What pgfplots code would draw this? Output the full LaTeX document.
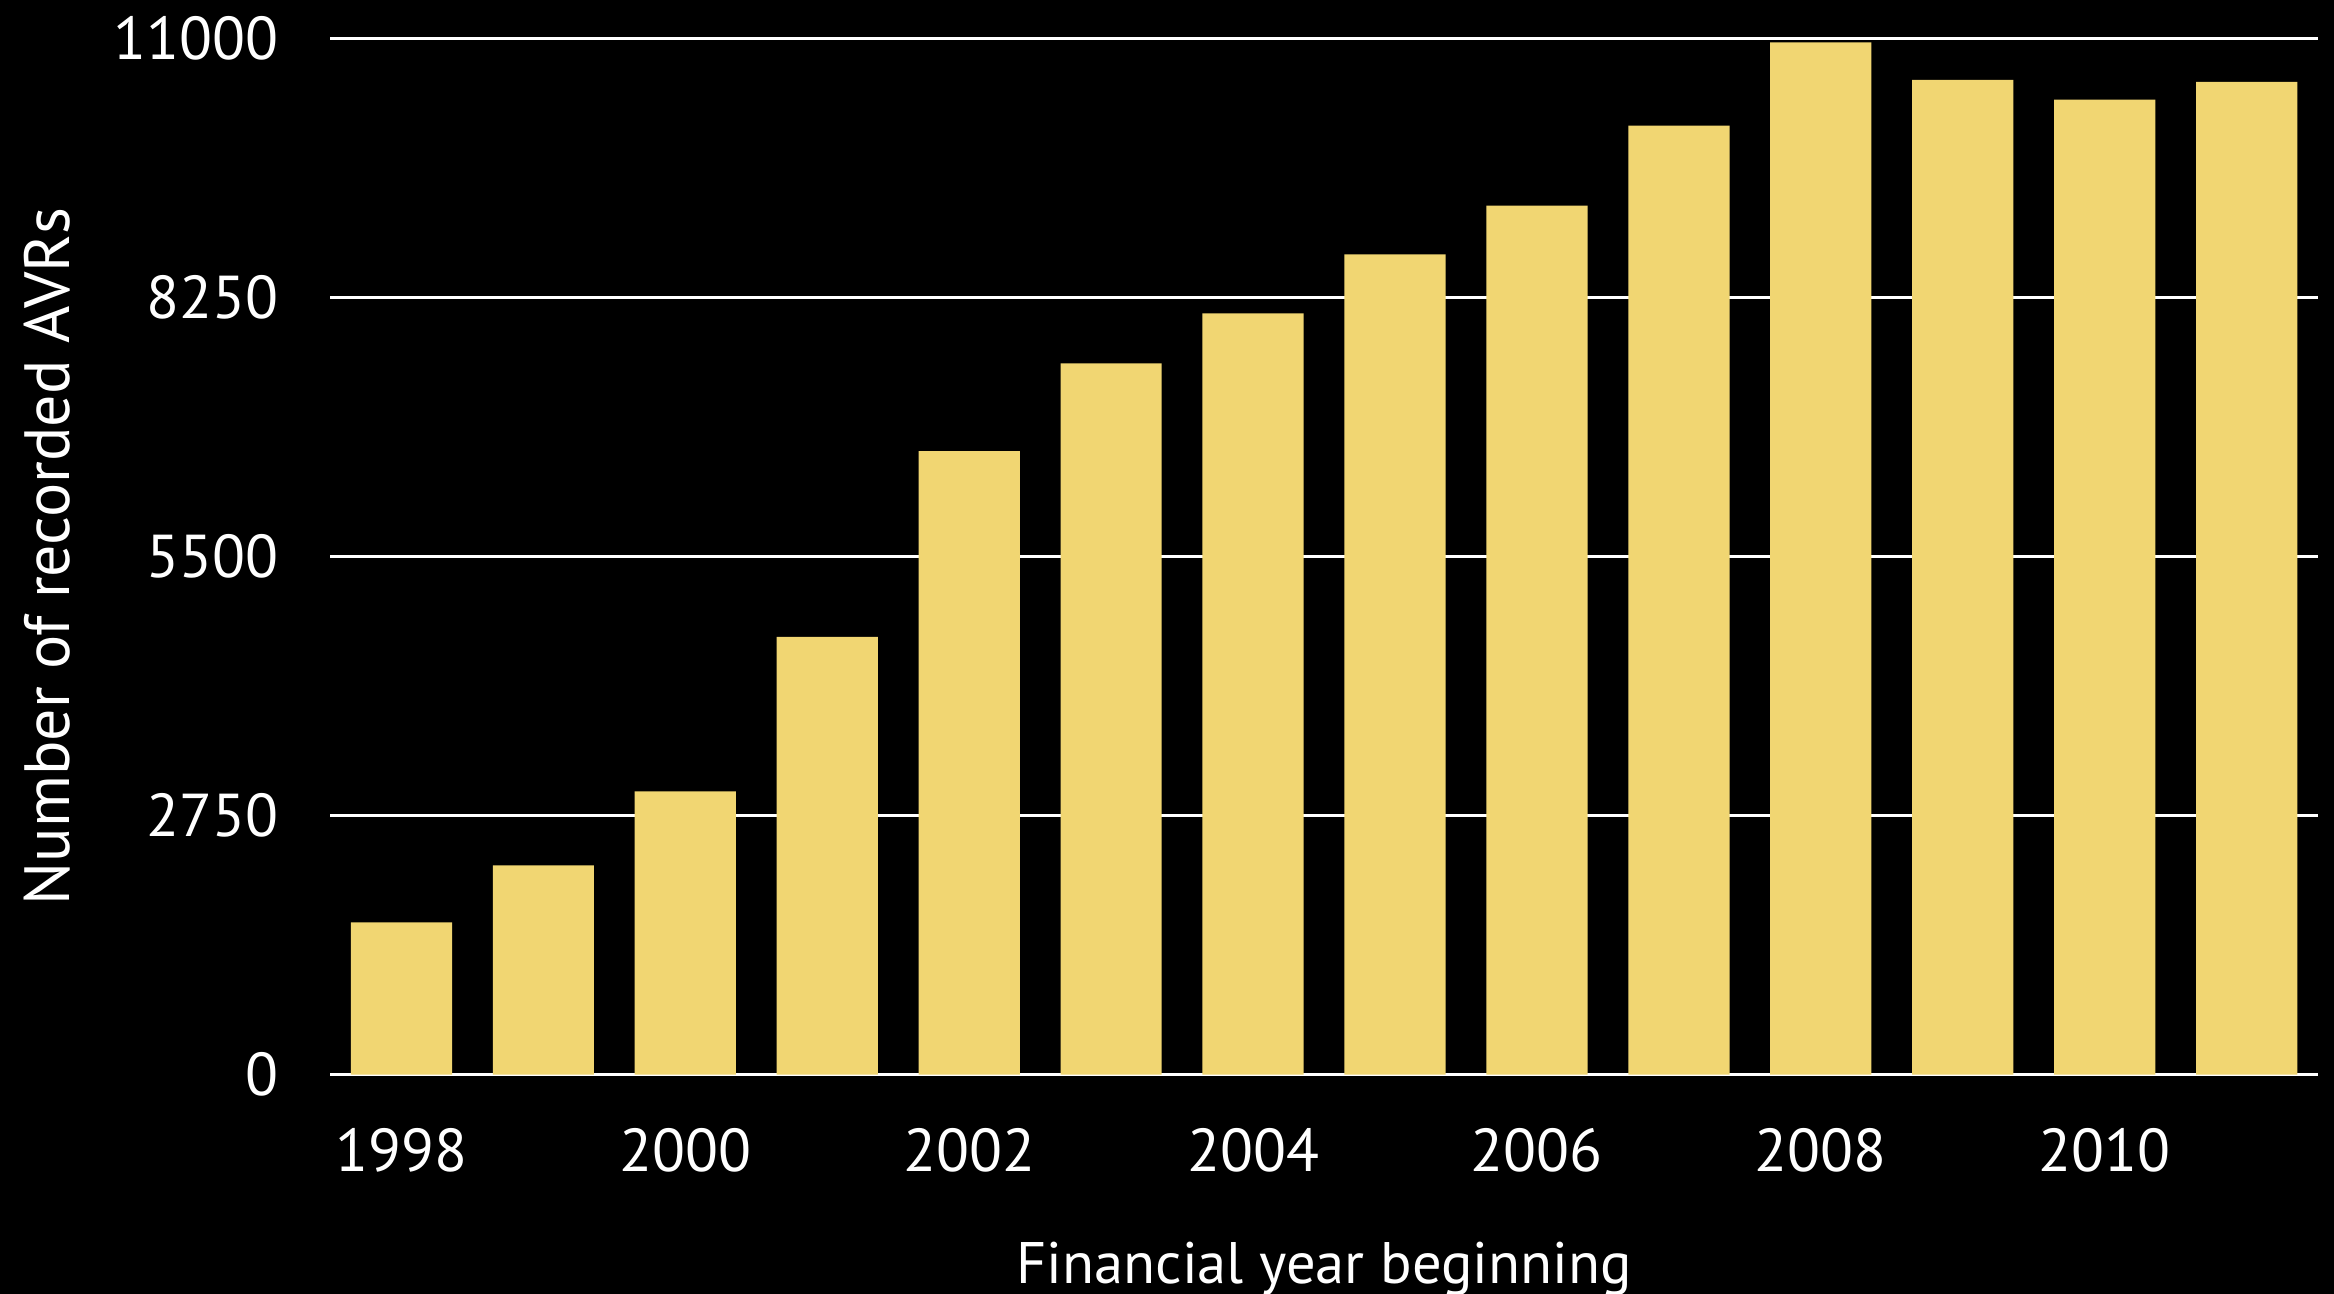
\documentclass[border=0pt]{standalone}
\usepackage{pgfplots}
\pgfplotsset{compat=1.18}
\usepackage{fontspec}
\setmainfont{PT Sans}
\definecolor{baryellow}{RGB}{241,214,114}
\begin{document}
\begin{tikzpicture}
\path[use as bounding box] (-66.6pt,-44.1pt) rectangle (403.8pt,216.6pt);
\fill[black] (-66.6pt,-44.1pt) rectangle (403.8pt,216.6pt);
\begin{axis}[
  at={(0pt,0pt)}, anchor=south west,
  scale only axis, width=400.5pt, height=208.8pt,
  xmin=-0.5, xmax=13.5, ymin=0, ymax=11000,
  scaled y ticks=false,
  ybar, bar width=20.4pt, bar shift=0pt,
  axis line style={draw=none},
  tick style={draw=none},
  ymajorgrids, grid style={white, line width=0.7pt},
  ytick={0,2750,5500,8250,11000},
  yticklabels={0,2750,5500,8250,11000},
  xtick={0,2,4,6,8,10,12},
  xticklabels={1998,2000,2002,2004,2006,2008,2010},
  ticklabel style={text=white, font=\fontsize{12.2}{12.2}\selectfont},
  yticklabel style={anchor=east, xshift=-7pt},
  xticklabel style={anchor=north, yshift=-3pt},
  xlabel={Financial year beginning},
  ylabel={Number of recorded AVRs},
  label style={text=white},
  xlabel style={font=\fontsize{11.8}{11.8}\selectfont, at={(axis description cs:0.5,0)}, anchor=base, yshift=-42pt},
  ylabel style={font=\fontsize{12.9}{12.9}\selectfont, at={(axis description cs:0,0.5)}, anchor=base, yshift=52.5pt},
]
\addplot[fill=baryellow, draw=none] coordinates {
(0,1617) (1,2223) (2,3009) (3,4648) (4,6621) (5,7554) (6,8084)
(7,8709) (8,9228) (9,10076) (10,10960) (11,10564) (12,10352) (13,10543)
};
\end{axis}
\end{tikzpicture}
\end{document}
